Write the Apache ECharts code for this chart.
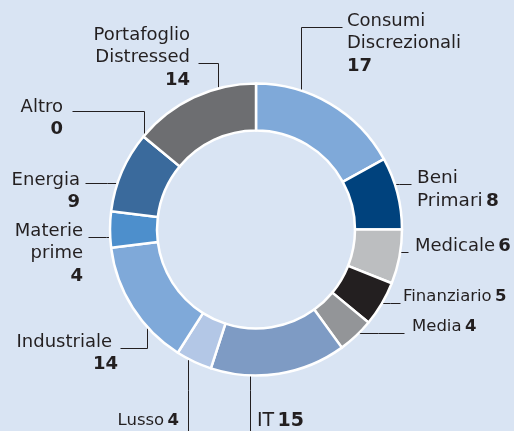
<!DOCTYPE html>
<html>
<head>
<meta charset="utf-8">
<script src="https://cdn.jsdelivr.net/npm/echarts@6/dist/echarts.min.js"></script>
<style>
  html, body { margin: 0; padding: 0; background: #d9e4f3; }
  #chart { width: 514px; height: 431px; }
</style>
</head>
<body>
<div id="chart"></div>
<script>
// settori (in senso orario dalle ore 12)
const sectors = ['Consumi\nDiscrezionali', 'Beni\nPrimari', 'Medicale', 'Finanziario', 'Media', 'IT',
  'Lusso', 'Industriale', 'Materie\nprime', 'Energia', 'Altro', 'Portafoglio\nDistressed'];
const weights = [17, 8, 6, 5, 4, 15, 4, 14, 4, 9, 0, 14];
const colors = ['#7fa9d9', '#00427d', '#bcbec0', '#231f20', '#939598', '#7e9bc4',
  '#b3c7e6', '#7fa9d9', '#4d8fcc', '#3a6a9c', '#3a6a9c', '#6d6e71'];

// posizione etichette: [x, y top, align, size, valore in linea, punti della linea]
const labelPos = [
  [347, 10, 'left', 18, false, [[301, 113], [301, 27], [342, 27]]],
  [417, 167, 'left', 18.5, true, [[387, 184], [399, 184], [411, 184]]],
  [415, 235, 'left', 18, true, [[378, 252], [393, 252], [408, 252]]],
  [403, 287, 'left', 16.5, true, [[381, 303], [390, 303], [400, 303]]],
  [412, 317, 'left', 16.5, true, [[351, 333], [378, 333], [404, 333]]],
  [257, 410, 'left', 19, true, [[250, 350], [250, 390], [250, 431]]],
  [179, 411, 'right', 16.5, true, [[188, 349], [188, 390], [188, 431]]],
  [118, 331, 'right', 18, false, [[147, 303], [147, 348], [120, 348]]],
  [83, 220, 'right', 18, false, [[124, 237], [106, 237], [88, 237]]],
  [80, 169, 'right', 18, false, [[129, 183], [107, 183], [85, 183]]],
  [63, 96, 'right', 18, false, [[144, 138], [144, 111], [72, 111]]],
  [190, 24, 'right', 18, false, [[218, 119], [218, 63], [198, 63]]]
];

const chart = echarts.init(document.getElementById('chart'));

const data = sectors.map((name, i) => {
  const [x, y, align, size, inline] = labelPos[i];
  const lines = name.split('\n').map(l => '{n|' + l + '}');
  const text = inline
    ? lines.slice(0, -1).concat(lines[lines.length - 1] + ' {b|' + weights[i] + '}').join('\n')
    : lines.concat('{b|' + weights[i] + '}').join('\n');
  const lh = size < 17 ? 20 : 22.5;
  return {
    name: name,
    value: weights[i],
    itemStyle: { color: colors[i] },
    label: {
      formatter: text,
      rich: {
        n: { fontSize: size, lineHeight: lh, color: '#231f20', fontFamily: 'DejaVu Sans',
          padding: i === 7 ? [0, 6, 0, 0] : 0 },
        b: { fontSize: size, lineHeight: lh, color: '#231f20', fontWeight: 'bold', fontFamily: 'DejaVu Sans' }
      }
    }
  };
});

chart.setOption({
  backgroundColor: '#d9e4f3',
  animation: false,
  series: [{
    type: 'pie',
    center: [256, 229.5],
    radius: [99, 146],
    startAngle: 90,
    clockwise: true,
    avoidLabelOverlap: false,
    silent: true,
    itemStyle: { borderColor: '#ffffff', borderWidth: 2.5 },
    label: { show: true, position: 'outside' },
    labelLine: { show: true, lineStyle: { color: '#231f20', width: 1 } },
    labelLayout: function (params) {
      const p = labelPos[params.dataIndex];
      return {
        x: p[0],
        y: p[1],
        align: p[2],
        verticalAlign: 'top',
        // mezzo pixel per linee nitide
        labelLinePoints: p[5].map(pt => [pt[0] + 0.5, pt[1] + 0.5])
      };
    },
    data: data
  }]
});
</script>
</body>
</html>
